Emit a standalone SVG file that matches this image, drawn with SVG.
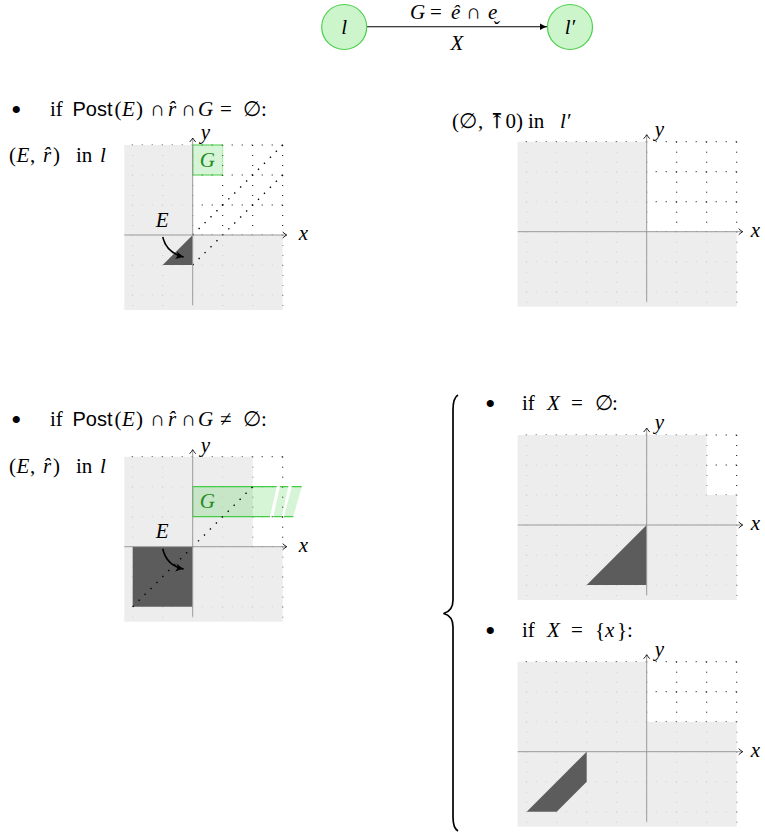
<svg xmlns="http://www.w3.org/2000/svg" width="765" height="834" viewBox="0 0 765 834">
<style>
.t{font-family:"Liberation Serif","DejaVu Serif",serif;font-size:21px;fill:#000}
.i{font-style:italic}
.s{font-family:"Liberation Sans","DejaVu Sans",sans-serif;font-style:normal;font-size:20px}
.b{font-family:"Liberation Serif","DejaVu Serif",serif;font-size:30px;fill:#000}
.grid{stroke:#000;stroke-width:1;stroke-dasharray:1 9;fill:none}
.gray{fill:#ebebeb;fill-opacity:0.88}
.axis{stroke:#9a9a9a;stroke-width:1;fill:none}
.dark{fill:#5c5c5c}
.diag{stroke:#000;stroke-width:1.4;stroke-dasharray:1.4 7;fill:none}
.gfill{fill:#33cc33;fill-opacity:0.2}
.gline{stroke:#44cc44;stroke-width:1.2;fill:none}
.gtxt{fill:#228b22}
.node{fill:#ccf5cc;stroke:#4fd04f;stroke-width:1.2}
.earrow{stroke:#000;stroke-width:1.6;fill:none}
</style>
<defs>
<marker id="ax" viewBox="-5 -4 6 8" markerWidth="6" markerHeight="8" refX="0" refY="0" orient="auto" markerUnits="userSpaceOnUse">
<path d="M-4,-3 Q-1.5,-0.8 0,0 Q-1.5,0.8 -4,3" stroke="#000" stroke-width="0.9" fill="none"/>
</marker>
<marker id="tip" viewBox="-8 -4 9 8" markerWidth="9" markerHeight="8" refX="0" refY="0" orient="auto" markerUnits="userSpaceOnUse">
<path d="M-7,-3.2 Q-3,-0.8 0,0 Q-3,0.8 -7,3.2 Z" fill="#000"/>
</marker>
<marker id="big" viewBox="-10 -5 11 10" markerWidth="11" markerHeight="10" refX="0" refY="0" orient="auto" markerUnits="userSpaceOnUse">
<path d="M-8,-4 Q-3,-1 0,0 Q-3,1 -8,4 Q-5,0 -8,-4 Z" fill="#000"/>
</marker>
<path id="gridS" d="M-60,-90V75M-30,-90V75M0,-90V75M30,-90V75M60,-90V75M90,-90V75M90,-90H-68.4M90,-60H-68.4M90,-30H-68.4M90,0H-68.4M90,30H-68.4M90,60H-68.4"/>
<path id="gridW" d="M-120,-90V75M-90,-90V75M-60,-90V75M-30,-90V75M0,-90V75M30,-90V75M60,-90V75M90,-90V75M90,-90H-129M90,-60H-129M90,-30H-129M90,0H-129M90,30H-129M90,60H-129"/>
</defs>

<g id="connectors">
<line x1="366.5" y1="26.7" x2="547" y2="26.7" stroke="#000" stroke-width="1.1" marker-end="url(#tip)"/>
<text class="t"><tspan class="i" x="410" y="19">G</tspan><tspan x="430">=</tspan><tspan class="i" x="451">ê</tspan><tspan x="466">∩</tspan><tspan class="i" x="488">e&#x32C;</tspan></text>
<text class="t i" x="457" y="50" text-anchor="middle">X</text>
</g>

<g id="node-l">
<circle class="node" cx="344.2" cy="27" r="22.5"/>
<text class="t i" x="344.2" y="34" text-anchor="middle">l</text>
</g>
<g id="node-l2">
<circle class="node" cx="570" cy="27" r="22.5"/>
<text class="t i" x="570" y="34" text-anchor="middle">l′</text>
</g>

<!-- Panel A -->
<g id="panel-a">
<text class="b" x="11" y="120">•</text>
<text class="t"><tspan x="50" y="116">if</tspan><tspan class="s" x="72.5">Post</tspan><tspan x="114.5">(</tspan><tspan class="i" x="122">E</tspan><tspan x="136">)</tspan><tspan x="150">∩</tspan><tspan class="i" x="168">r&#x302;</tspan><tspan x="181">∩</tspan><tspan class="i" x="198">G</tspan><tspan x="220">=</tspan><tspan x="243">∅</tspan><tspan x="261">:</tspan></text>
<text class="t"><tspan x="9" y="162">(</tspan><tspan class="i" x="16.5">E</tspan><tspan x="30">,</tspan><tspan class="i" x="43">r&#x302;</tspan><tspan x="53">)</tspan><tspan x="76">in</tspan><tspan class="i" x="100">l</tspan></text>
<g transform="translate(192.7,235)">
<use href="#gridS" class="grid"/>
<path class="gray" d="M-68.4,-90H0V0H90V75H-68.4Z"/>
<rect class="gfill" x="0" y="-90" width="30" height="30"/>
<path class="gline" d="M30,-90H0V-60H30"/>
<path d="M30,-90V-60" stroke="#44cc44" stroke-opacity="0.4" fill="none"/>
<text class="t i gtxt" x="7" y="-68">G</text>
<path class="diag" d="M0,0L90,-90M0,30L90,-60"/>
<path class="dark" d="M0,0L0,30L-30,30Z"/>
<path class="axis" d="M-68.4,0H94" marker-end="url(#ax)"/>
<path class="axis" d="M0,70V-97" marker-end="url(#ax)"/>
<text class="t i" x="106" y="5">x</text>
<text class="t i" x="8" y="-96">y</text>
<text class="t i" x="-37" y="-8">E</text>
<path class="earrow" d="M-30,2 Q-26,18 -9,22" marker-end="url(#big)"/>
</g>
</g>

<!-- Panel B -->
<g id="panel-b">
<text class="t"><tspan x="452" y="128">(</tspan><tspan x="459">∅</tspan><tspan x="478">,</tspan><tspan x="488">⤒0)</tspan><tspan x="528">in</tspan><tspan class="i" x="560">l′</tspan></text>
<g transform="translate(646.7,231.7)">
<use href="#gridW" class="grid"/>
<path class="gray" d="M-129,-90H0V0H90V75H-129Z"/>
<path class="axis" d="M-129,0H96" marker-end="url(#ax)"/>
<path class="axis" d="M0,70V-97" marker-end="url(#ax)"/>
<text class="t i" x="104" y="5">x</text>
<text class="t i" x="8" y="-96">y</text>
</g>
</g>

<!-- Panel C -->
<g id="panel-c">
<text class="b" x="11" y="430">•</text>
<text class="t"><tspan x="50" y="426">if</tspan><tspan class="s" x="72.5">Post</tspan><tspan x="114.5">(</tspan><tspan class="i" x="122">E</tspan><tspan x="136">)</tspan><tspan x="150">∩</tspan><tspan class="i" x="168">r&#x302;</tspan><tspan x="181">∩</tspan><tspan class="i" x="198">G</tspan><tspan x="220">≠</tspan><tspan x="243">∅</tspan><tspan x="261">:</tspan></text>
<text class="t"><tspan x="9" y="473">(</tspan><tspan class="i" x="16.5">E</tspan><tspan x="30">,</tspan><tspan class="i" x="43">r&#x302;</tspan><tspan x="53">)</tspan><tspan x="76">in</tspan><tspan class="i" x="100">l</tspan></text>
<g transform="translate(192.7,546.7)">
<use href="#gridS" class="grid"/>
<path class="gray" d="M-68.4,-90H60V0H90V75H-68.4Z"/>
<path class="gfill" d="M0,-60H84L77.3,-30H0Z"/>
<path class="gfill" d="M87.3,-60H95.6L89,-30H80.6Z"/>
<path class="gfill" d="M99,-60H109L100.6,-30H91.3Z"/>
<path class="gline" d="M84,-60H0V-30H77.3M87.3,-60H95.6M80.6,-30H89M99,-60H109M91.3,-30H100.6"/>
<text class="t i gtxt" x="7" y="-38.4">G</text>
<path class="dark" d="M-60,0H0V60H-60Z"/>
<path class="diag" d="M-60,60L60,-60"/>
<path class="axis" d="M-68.4,0H94" marker-end="url(#ax)"/>
<path class="axis" d="M0,70V-97" marker-end="url(#ax)"/>
<text class="t i" x="106" y="5">x</text>
<text class="t i" x="8" y="-95">y</text>
<text class="t i" x="-37" y="-8.4">E</text>
<path class="earrow" d="M-30,2 Q-26,19 -9,22.3" marker-end="url(#big)"/>
</g>
</g>

<!-- Brace -->
<g id="brace">
<path d="M458,395 C454.5,397 453,401 453,410 V600 C453,608 449.5,612 443.5,613.5 C449.5,615 453,619 453,627 V817 C453,825 454.5,829 458,831" stroke="#000" stroke-width="1.7" fill="none"/>
</g>

<!-- Panel D -->
<g id="panel-d">
<text class="b" x="485" y="414">•</text>
<text class="t"><tspan x="522" y="410">if</tspan><tspan class="i" x="547">X</tspan><tspan x="571">=</tspan><tspan x="595">∅</tspan><tspan x="612">:</tspan></text>
<g transform="translate(646.7,525)">
<use href="#gridW" class="grid"/>
<path class="gray" d="M-129,-90H60V-30H90V75H-129Z"/>
<path class="dark" d="M0,0L0,60L-60,60Z"/>
<path class="axis" d="M-129,0H96" marker-end="url(#ax)"/>
<path class="axis" d="M0,70V-97" marker-end="url(#ax)"/>
<text class="t i" x="104" y="5">x</text>
<text class="t i" x="8" y="-96">y</text>
</g>
</g>

<!-- Panel E -->
<g id="panel-e">
<text class="b" x="485" y="641">•</text>
<text class="t"><tspan x="522" y="637">if</tspan><tspan class="i" x="547">X</tspan><tspan x="571">=</tspan><tspan x="595">{</tspan><tspan class="i" x="605">x</tspan><tspan x="617">}:</tspan></text>
<g transform="translate(646.7,751.7)">
<use href="#gridW" class="grid"/>
<path class="gray" d="M-129,-90H0V-30H90V75H-129Z"/>
<path class="dark" d="M-60,0L-60,30L-90,60L-120,60Z"/>
<path class="axis" d="M-129,0H96" marker-end="url(#ax)"/>
<path class="axis" d="M0,70V-97" marker-end="url(#ax)"/>
<text class="t i" x="104" y="5">x</text>
<text class="t i" x="8" y="-96">y</text>
</g>
</g>
</svg>
